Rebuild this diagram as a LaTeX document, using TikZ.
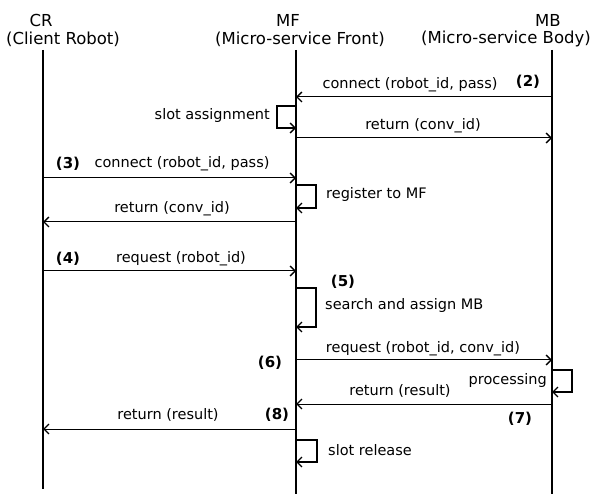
\documentclass[tikz,border=0pt]{standalone}
\usepackage{fontspec}
\setmainfont{DejaVu Sans}
\usetikzlibrary{arrows.meta}
\tikzset{
  hdr/.style={font=\fontsize{16.5}{20}\selectfont, inner sep=0pt},
  lbl/.style={font=\fontsize{14.5}{16}\selectfont, inner sep=0pt},
  num/.style={font=\fontsize{15}{16}\selectfont\bfseries, inner sep=0pt},
  life/.style={line width=2.6pt},
  msg/.style={line width=1pt, -{Straight Barb[length=5pt,width=10pt,line width=1.3pt]}},
  selfl/.style={line width=2pt, -{Straight Barb[length=5pt,width=10pt,line width=1.3pt]}}
}
\begin{document}
\begin{tikzpicture}[x=1pt,y=-1pt]
\useasboundingbox[fill=white] (0,0) rectangle (592,494);
% headers
\node[hdr] (CR) at (41,20) {CR};
\node[hdr] (CRs) at (63,39) {(Client Robot)};
\node[hdr] (MF) at (288,20) {MF};
\node[hdr] (MFs) at (300,39) {(Micro-service Front)};
\node[hdr] (MB) at (548,20) {MB};
\node[hdr] (MBs) at (506,39) {(Micro-service Body)};
% lifelines
\coordinate (crT) at (43,50);  \coordinate (crB) at (43,489);
\coordinate (mfT) at (296,50); \coordinate (mfB) at (296,494);
\coordinate (mbT) at (552,50); \coordinate (mbB) at (552,494);
\draw[life] (crT) -- (crB);
\draw[life] (mfT) -- (mfB);
\draw[life] (mbT) -- (mbB);
% (2) connect MB -> MF
\coordinate (a1) at (552,97); \coordinate (b1) at (296,97);
\draw[msg] (a1) -- (b1);
\node[lbl] (l1) at (410,85) {connect (robot\_id, pass)};
\node[num] (n2) at (528,82) {(2)};
% slot assignment
\coordinate (s1a) at (296,106); \coordinate (s1b) at (296,128);
\draw[selfl] (s1a) -- ++(-19,0) |- (s1b);
\node[lbl, anchor=east] (l2) at (270,116) {slot assignment};
% return conv_id MF -> MB
\coordinate (a2) at (296,138); \coordinate (b2) at (552,138);
\draw[msg] (a2) -- (b2);
\node[lbl] (l3) at (423,126) {return (conv\_id)};
% (3) connect CR -> MF
\coordinate (a3) at (43,178); \coordinate (b3) at (296,178);
\draw[msg] (a3) -- (b3);
\node[lbl] (l4) at (182,164) {connect (robot\_id, pass)};
\node[num] (n3) at (68,164) {(3)};
% register to MF
\coordinate (s2a) at (296,185); \coordinate (s2b) at (296,208);
\draw[selfl] (s2a) -- ++(20,0) |- (s2b);
\node[lbl, anchor=west] (l5) at (326,195) {register to MF};
% return conv_id MF -> CR
\coordinate (a4) at (296,222); \coordinate (b4) at (43,222);
\draw[msg] (a4) -- (b4);
\node[lbl] (l6) at (172,209) {return (conv\_id)};
% (4) request
\coordinate (a5) at (43,271); \coordinate (b5) at (296,271);
\draw[msg] (a5) -- (b5);
\node[lbl] (l7) at (181,259) {request (robot\_id)};
\node[num] (n4) at (68,259) {(4)};
% (5) search and assign MB
\node[num] (n5) at (343,282) {(5)};
\coordinate (s3a) at (296,288); \coordinate (s3b) at (296,327);
\draw[selfl] (s3a) -- ++(20,0) |- (s3b);
\node[lbl, anchor=west] (l8) at (325,306) {search and assign MB};
% (6) request MF -> MB
\coordinate (a6) at (296,360); \coordinate (b6) at (552,360);
\draw[msg] (a6) -- (b6);
\node[lbl] (l9) at (423,349) {request (robot\_id, conv\_id)};
\node[num] (n6) at (270,363) {(6)};
% processing
\coordinate (s4a) at (552,370); \coordinate (s4b) at (552,392);
\draw[selfl] (s4a) -- ++(20,0) |- (s4b);
\node[lbl, anchor=east] (l10) at (547,380) {processing};
% (7) return result MB -> MF
\coordinate (a7) at (552,404); \coordinate (b7) at (296,404);
\draw[msg] (a7) -- (b7);
\node[lbl] (l11) at (400,391) {return (result)};
\node[num] (n7) at (520,419) {(7)};
% (8) return result MF -> CR
\coordinate (a8) at (296,429); \coordinate (b8) at (43,429);
\draw[msg] (a8) -- (b8);
\node[lbl] (l12) at (168,415) {return (result)};
\node[num] (n8) at (277,415) {(8)};
% slot release
\coordinate (s5a) at (296,440); \coordinate (s5b) at (296,462);
\draw[selfl] (s5a) -- ++(21,0) |- (s5b);
\node[lbl, anchor=west] (l13) at (328,450) {slot release};
\end{tikzpicture}
\end{document}
